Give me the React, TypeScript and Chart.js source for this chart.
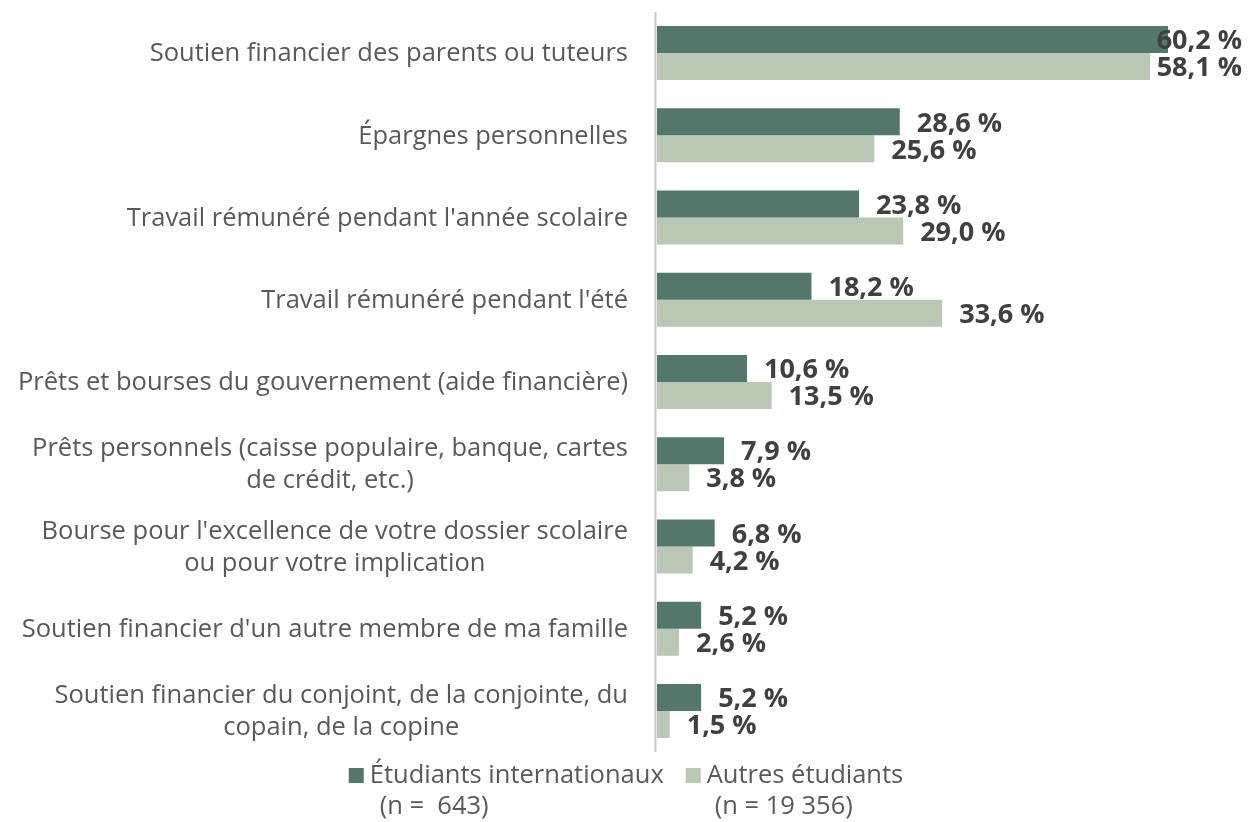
import React, { useEffect, useRef } from "react";
import { Chart, registerables } from "chart.js";

Chart.register(...registerables);

const categories: string[][] = [
  ["Soutien financier des parents ou tuteurs"],
  ["Épargnes personnelles"],
  ["Travail rémunéré pendant l'année scolaire"],
  ["Travail rémunéré pendant l'été"],
  ["Prêts et bourses du gouvernement (aide financière)"],
  ["Prêts personnels (caisse populaire, banque, cartes", "de crédit, etc.)"],
  ["Bourse pour l'excellence de votre dossier scolaire", "ou pour votre implication"],
  ["Soutien financier d'un autre membre de ma famille"],
  ["Soutien financier du conjoint, de la conjointe, du", "copain, de la copine"],
];

const internationalValues = [60.2, 28.6, 23.8, 18.2, 10.6, 7.9, 6.8, 5.2, 5.2];
const autresValues = [58.1, 25.6, 29.0, 33.6, 13.5, 3.8, 4.2, 2.6, 1.5];

const seriesNames = ["Étudiants internationaux", "Autres étudiants"];
const seriesSubtitles = ["(n =  643)", "(n = 19 356)"];

const DARK = "#53776A";
const LIGHT = "#BAC7B5";
const FONT = "'Open Sans', 'DejaVu Sans', sans-serif";

const overlayPlugin = {
  id: "overlay",
  afterDatasetsDraw(chart: any) {
    const ctx = chart.ctx;
    const area = chart.chartArea;
    const yScale = chart.scales.y;
    ctx.save();

    // axis line
    ctx.strokeStyle = "#C8C8C8";
    ctx.lineWidth = 2;
    ctx.beginPath();
    ctx.moveTo(area.left - 1.5, area.top);
    ctx.lineTo(area.left - 1.5, area.bottom);
    ctx.stroke();

    // category labels
    ctx.font = `25.5px ${FONT}`;
    ctx.fillStyle = "#595959";
    ctx.textAlign = "center";
    ctx.textBaseline = "middle";
    const rightEdge = 628;
    const lineH = 32;
    categories.forEach((lines, i) => {
      const cy = yScale.getPixelForValue(i);
      const maxW = Math.max(...lines.map((l) => ctx.measureText(l).width));
      const cx = rightEdge - maxW / 2;
      lines.forEach((l, j) => {
        ctx.fillText(l, cx, cy + (j - (lines.length - 1) / 2) * lineH + 1);
      });
    });

    // data labels
    ctx.font = `bold 27px ${FONT}`;
    ctx.fillStyle = "#404040";
    ctx.textAlign = "left";
    chart.data.datasets.forEach((ds: any, di: number) => {
      const meta = chart.getDatasetMeta(di);
      meta.data.forEach((bar: any, i: number) => {
        const v = ds.data[i] as number;
        const txt = v.toFixed(1).replace(".", ",") + " %";
        const w = ctx.measureText(txt).width;
        let x = bar.x + 17;
        if (x + w > 1242) x = 1242 - w;
        ctx.fillText(txt, x, bar.y + 2);
      });
    });

    // legend
    ctx.font = `25.5px ${FONT}`;
    ctx.fillStyle = "#595959";
    ctx.textBaseline = "middle";
    const colors = [DARK, LIGHT];
    const boxSize = 15;
    const gapBoxText = 6;
    const gapItems = 22;
    const widths = seriesNames.map((n) => ctx.measureText(n).width);
    const total =
      widths.reduce((a, b) => a + b, 0) + 2 * (boxSize + gapBoxText) + gapItems;
    let x = 626 - total / 2;
    const y1 = 776;
    const y2 = 807;
    const subOffsets = [10, 8];
    seriesNames.forEach((n, i) => {
      ctx.fillStyle = colors[i];
      ctx.fillRect(x, y1 - 8, boxSize, boxSize);
      const tx = x + boxSize + gapBoxText;
      ctx.fillStyle = "#595959";
      ctx.fillText(n, tx, y1);
      ctx.fillText(seriesSubtitles[i], tx + subOffsets[i], y2);
      x = tx + widths[i] + gapItems;
    });

    ctx.restore();
  },
};

export default function App() {
  const canvasRef = useRef<HTMLCanvasElement | null>(null);

  useEffect(() => {
    if (!canvasRef.current) return;
    const chart = new Chart(canvasRef.current, {
      type: "bar",
      data: {
        labels: categories.map((c) => c.join(" ")),
        datasets: [
          {
            label: seriesNames[0],
            data: internationalValues,
            backgroundColor: DARK,
            barPercentage: 1,
            categoryPercentage: 0.657,
          },
          {
            label: seriesNames[1],
            data: autresValues,
            backgroundColor: LIGHT,
            barPercentage: 1,
            categoryPercentage: 0.657,
          },
        ],
      },
      options: {
        indexAxis: "y",
        animation: false,
        responsive: true,
        maintainAspectRatio: false,
        layout: {
          padding: { left: 657, right: 13.8, top: 12, bottom: 70 },
        },
        scales: {
          x: { display: false, min: 0, max: 68 },
          y: { display: false },
        },
        plugins: {
          legend: { display: false },
          tooltip: { enabled: false },
        },
      },
      plugins: [overlayPlugin],
    });
    return () => chart.destroy();
  }, []);

  return (
    <div
      style={{
        position: "fixed",
        left: 0,
        top: 0,
        width: 1248,
        height: 822,
        background: "#fff",
      }}
    >
      <canvas ref={canvasRef} />
    </div>
  );
}
